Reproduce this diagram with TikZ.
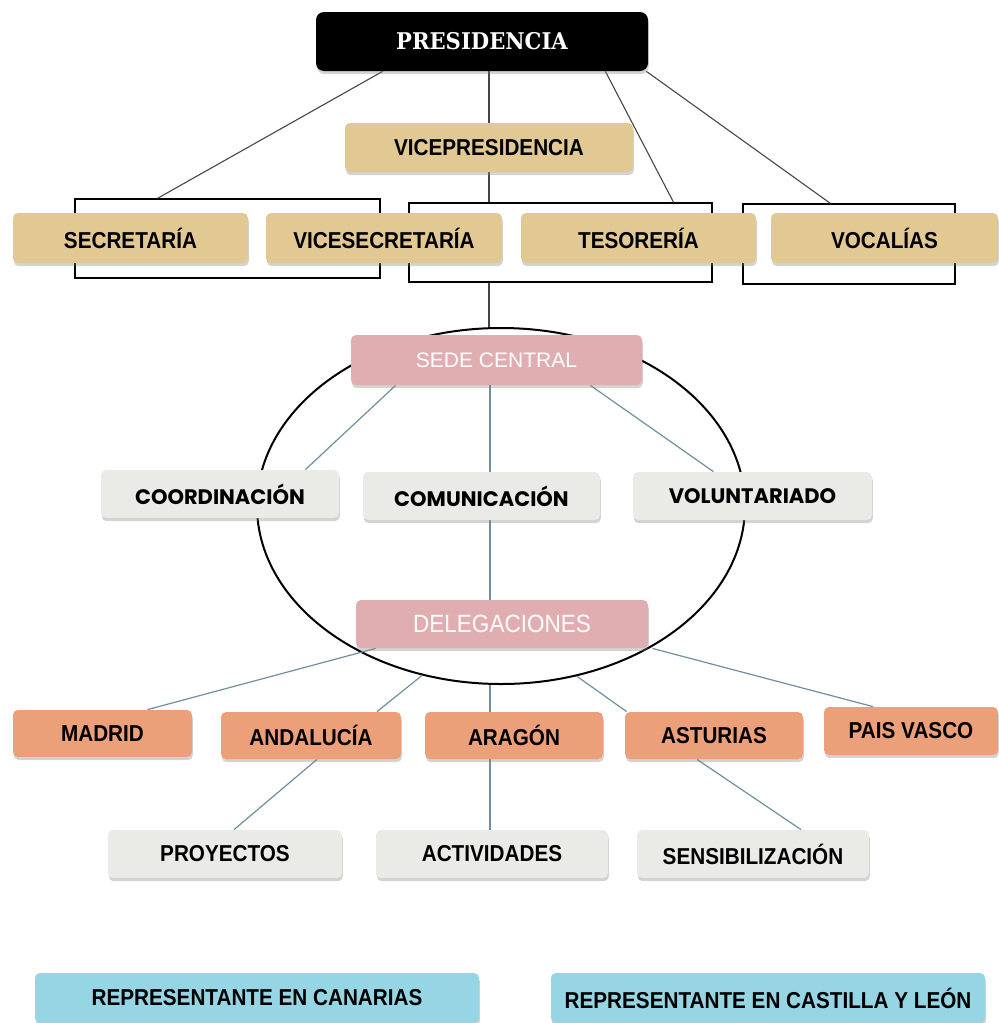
\documentclass[tikz,border=0pt]{standalone}
\usepackage{fontspec}
\newfontfamily\condf[FakeStretch=0.9]{Liberation Sans}
\newfontfamily\plainf{Liberation Sans}
\newfontfamily\roundf{Poppins}
\newfontfamily\slabf[FakeStretch=0.92]{DejaVu Serif}
\usetikzlibrary{shapes.geometric,calc,shadows}
\pgfdeclarelayer{background}
\pgfsetlayers{background,main}
\definecolor{woodc}{RGB}{226,200,146}
\definecolor{pinkc}{RGB}{224,174,177}
\definecolor{grayc}{RGB}{234,234,231}
\definecolor{orangec}{RGB}{236,160,122}
\definecolor{bluec}{RGB}{150,214,228}
\definecolor{linec}{RGB}{112,142,158}
\definecolor{topc}{RGB}{70,70,70}
\tikzset{
  box/.style={rectangle, rounded corners=2.5pt, inner sep=0pt, text=black,
    drop shadow={shadow xshift=0.4pt, shadow yshift=-1.6pt, opacity=0.35},
    font=\condf\bfseries\fontsize{11.5}{12}\selectfont},
  wood/.style={box, fill=woodc},
  pinkbox/.style={box, fill=pinkc, text=white},
  graybox/.style={box, fill=grayc},
  roundbox/.style={graybox, font=\roundf\bfseries\fontsize{10.5}{12}\selectfont},
  orangebox/.style={box, fill=orangec},
  bluebox/.style={box, fill=bluec},
  presbox/.style={rectangle, rounded corners=4pt, fill=black, text=white, inner sep=0pt,
    drop shadow={shadow xshift=0.4pt, shadow yshift=-1.6pt, opacity=0.35},
    font=\slabf\bfseries\fontsize{11.5}{13}\selectfont},
  bracket/.style={rectangle, draw=black, line width=0.6pt, inner sep=0pt},
  topline/.style={draw=topc, line width=0.55pt},
  bline/.style={draw=linec, line width=0.6pt},
}
\begin{document}
\begin{tikzpicture}[x=0.5pt,y=-0.5pt]
\useasboundingbox (0,0) rectangle (998,1023);
% boxes
\node[presbox, minimum width=166pt, minimum height=29.5pt] (pres) at (482,41.5) {PRESIDENCIA};
\node[wood, minimum width=144pt, minimum height=24.5pt] (vice) at (489,147.5) {VICEPRESIDENCIA};
\node[wood, minimum width=117.5pt, minimum height=25pt] (sec) at (130.5,238) {SECRETARÍA};
\node[wood, minimum width=118pt, minimum height=25pt] (vsec) at (384,238) {VICESECRETARÍA};
\node[wood, minimum width=117.5pt, minimum height=25pt] (tes) at (638.5,238) {TESORERÍA};
\node[wood, minimum width=113.5pt, minimum height=25pt] (voc) at (884.5,238) {VOCALÍAS};
\node[pinkbox, minimum width=145.5pt, minimum height=25pt, font=\plainf\fontsize{10.5}{12}\selectfont] (sede) at (496.5,360) {SEDE CENTRAL};
\node[roundbox, minimum width=119pt, minimum height=24pt] (coord) at (220,494) {COORDINACIÓN};
\node[roundbox, minimum width=118.5pt, minimum height=24pt] (comun) at (481.5,496) {COMUNICACIÓN};
\node[roundbox, minimum width=119.5pt, minimum height=24pt] (volun) at (752.5,496) {VOLUNTARIADO};
\node[pinkbox, minimum width=146pt, minimum height=24pt, font=\condf\fontsize{12.5}{13}\selectfont] (deleg) at (502,624) {DELEGACIONES};
\node[orangebox, minimum width=89.5pt, minimum height=23.5pt] (madrid) at (102.5,733.5) {MADRID};
\node[orangebox, minimum width=90pt, minimum height=23.5pt] (andal) at (311,735.5) {ANDALUCÍA};
\node[orangebox, minimum width=89pt, minimum height=23.5pt] (aragon) at (514,735.5) {ARAGÓN};
\node[orangebox, minimum width=89pt, minimum height=23.5pt] (astur) at (714,735.5) {ASTURIAS};
\node[orangebox, minimum width=87pt, minimum height=24pt] (pvasco) at (911,731) {PAIS VASCO};
\node[graybox, minimum width=117pt, minimum height=24pt] (proy) at (225,854) {PROYECTOS};
\node[graybox, minimum width=116pt, minimum height=24pt] (activ) at (492,854) {ACTIVIDADES};
\node[graybox, minimum width=116pt, minimum height=24pt] (sens) at (753,854) {SENSIBILIZACIÓN};
\node[bluebox, minimum width=222pt, minimum height=25pt] (canar) at (257,998) {REPRESENTANTE EN CANARIAS};
\node[bluebox, minimum width=217pt, minimum height=25pt] (castil) at (768,998) {REPRESENTANTE EN CASTILLA Y LEÓN};
\coordinate (vx) at (490,0);
\begin{pgfonlayer}{background}
\node[bracket, minimum width=152.5pt, minimum height=39.5pt] (br1) at (227.5,238.5) {};
\node[bracket, minimum width=151.5pt, minimum height=39.5pt] (br2) at (560.5,242.5) {};
\node[bracket, minimum width=106pt, minimum height=40pt] (br3) at (849,244) {};
\node[ellipse, draw=black, line width=1pt, inner sep=0pt, minimum width=244pt, minimum height=178pt] (oval) at (501,506) {};
% top connectors
\draw[topline] ($(pres.south west)+(67,0)$) -- ($(br1.north west)+(83,0)$);
\draw[topline] (vice.north |- pres.south) -- (vice.north);
\draw[topline] (vice.south) -- (vice.south |- br2.north);
\draw[topline] ($(pres.south east)+(-43,0)$) -- ($(br2.north east)+(-39,0)$);
\draw[topline] ($(pres.south east)+(-2,0)$) -- ($(br3.north west)+(88,0)$);
\draw[topline] (vice.south |- br2.south) -- (vice.south |- oval.north);
% lower connectors
\draw[bline] ($(sede.south west)+(45,0)$) -- ($(coord.north east)+(-34,0)$);
\draw[bline] (sede.south -| vx) -- (comun.north -| vx);
\draw[bline] ($(sede.south east)+(-52,0)$) -- ($(volun.north east)+(-159,0)$);
\draw[bline] (comun.south -| vx) -- (deleg.north -| vx);
\draw[bline] ($(deleg.south west)+(20,0)$) -- ($(madrid.north)+(45,0)$);
\draw[bline] (oval.245) -- ($(andal.north)+(66,0)$);
\draw[bline] (oval.south -| vx) -- (aragon.north -| vx);
\draw[bline] (oval.-66) -- ($(astur.north west)+(2,0)$);
\draw[bline] ($(deleg.south east)+(4,0)$) -- ($(pvasco.north)+(-38,0)$);
\draw[bline] ($(andal.south)+(6,0)$) -- ($(proy.north)+(9,0)$);
\draw[bline] (aragon.south -| vx) -- (activ.north -| vx);
\draw[bline] ($(astur.south)+(-17,0)$) -- ($(sens.north)+(48,0)$);
\end{pgfonlayer}
\end{tikzpicture}
\end{document}
